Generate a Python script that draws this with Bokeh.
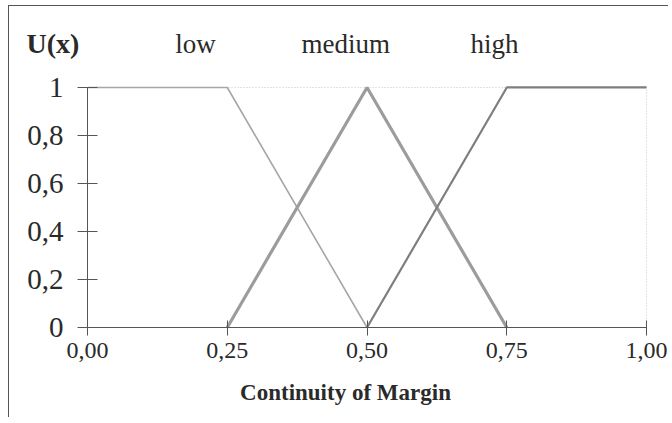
from bokeh.plotting import figure
from bokeh.models import Range1d, FixedTicker
from bokeh.core.properties import value
from bokeh.embed import file_html
from bokeh.resources import INLINE

# data
x_low = [0.0, 0.25, 0.5]
y_low = [1.0, 1.0, 0.0]
x_med = [0.25, 0.5, 0.75]
y_med = [0.0, 1.0, 0.0]
x_high = [0.5, 0.75, 1.0]
y_high = [0.0, 1.0, 1.0]

x_ticks = [0.0, 0.25, 0.5, 0.75, 1.0]
x_tick_labels = ["0,00", "0,25", "0,50", "0,75", "1,00"]
y_ticks = [0.0, 0.2, 0.4, 0.6, 0.8, 1.0]
y_tick_labels = ["0", "0,2", "0,4", "0,6", "0,8", "1"]

series_names = ["low", "medium", "high"]
series_label_x = [0.193, 0.462, 0.728]
header_y = 1.183
y_label_text = "U(x)"
y_label_x = -0.109
x_title_text = "Continuity of Margin"
x_title_pos = (0.4615, -0.272)

FONT = "Liberation Serif"
TXT = "#2a2a2a"

p = figure(width=660, height=412, output_backend="svg", toolbar_location=None,
           x_range=Range1d(-0.1395, 1.041), y_range=Range1d(-0.379, 1.279),
           min_border_left=0, min_border_right=0, min_border_top=14, min_border_bottom=0)
p.styles = {"margin-left": "8px", "margin-top": "5px",
            "border-left": "1px solid #555", "border-top": "1px solid #555"}
p.background_fill_color = "white"
p.border_fill_color = "white"
p.outline_line_color = None
p.xgrid.visible = False
p.ygrid.visible = False

# dotted plot-area border (top and right)
p.segment(x0=[x_ticks[0], x_ticks[-1]], y0=[y_ticks[-1], y_ticks[0]],
          x1=[x_ticks[-1], x_ticks[-1]], y1=[y_ticks[-1], y_ticks[-1]],
          line_color="#c4c4c4", line_width=1, line_dash="1 2")

p.line(x_low, y_low, line_color="#a6a6a6", line_width=1.6)
p.line(x_med, y_med, line_color="#9c9c9c", line_width=3.2)
p.line(x_high, y_high, line_color="#7e7e7e", line_width=2.2)

# x axis, drawn at y = 0 inside the frame
xa = p.xaxis[0]
xa.fixed_location = 0
xa.bounds = (x_ticks[0] - 0.009, x_ticks[-1])
xa.ticker = FixedTicker(ticks=x_ticks)
xa.major_label_overrides = {t: l for t, l in zip(x_ticks, x_tick_labels)}
xa.minor_tick_line_color = None
xa.major_tick_in = 7
xa.major_tick_out = 8
xa.major_label_standoff = 7
xa.axis_line_color = "#555555"
xa.major_tick_line_color = "#555555"
xa.major_label_text_font = FONT
xa.major_label_text_font_size = "24px"
xa.major_label_text_color = TXT

# y axis, drawn at x = 0 inside the frame
ya = p.yaxis[0]
ya.fixed_location = 0
ya.bounds = (0, 1)
ya.ticker = FixedTicker(ticks=y_ticks)
ya.major_label_overrides = {t: l for t, l in zip(y_ticks, y_tick_labels)}
ya.minor_tick_line_color = None
ya.major_tick_in = 10
ya.major_tick_out = 10
ya.major_label_standoff = 14
ya.axis_line_color = "#555555"
ya.major_tick_line_color = "#555555"
ya.major_label_text_font = FONT
ya.major_label_text_font_size = "29px"
ya.major_label_text_color = TXT
ya.major_label_orientation = "horizontal"

# x axis title
p.text(x=[x_title_pos[0]], y=[x_title_pos[1]], text=[x_title_text], text_font=value(FONT),
       text_font_size="23px", text_font_style="bold", text_color=TXT,
       text_align="center", text_baseline="middle")

# header texts
p.text(x=[y_label_x], y=[header_y], text=[y_label_text], text_font=value(FONT),
       text_font_size="28px", text_font_style="bold", text_color=TXT,
       text_align="left", text_baseline="middle")
p.text(x=series_label_x, y=[header_y] * len(series_names), text=series_names,
       text_font=value(FONT), text_font_size="27px", text_color=TXT,
       text_align="center", text_baseline="middle")

open("out.html", "w").write(file_html(p, INLINE))
